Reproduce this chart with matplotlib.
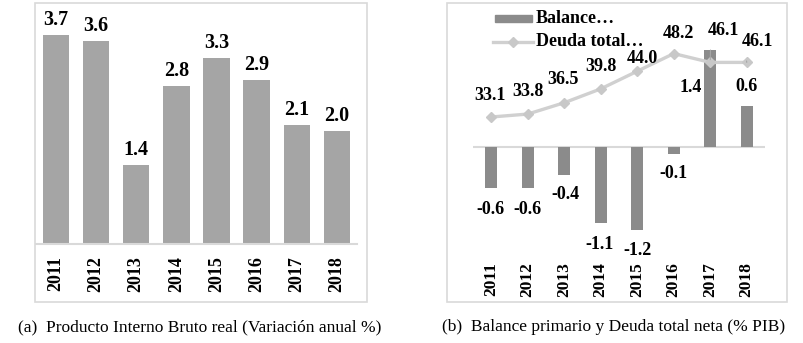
import matplotlib
matplotlib.use("Agg")
import matplotlib.pyplot as plt
from matplotlib.transforms import blended_transform_factory
from matplotlib.patches import Rectangle
from matplotlib.lines import Line2D

# ---- data ----
years = ['2011', '2012', '2013', '2014', '2015', '2016', '2017', '2018']
pib = [3.7, 3.6, 1.4, 2.8, 3.3, 2.9, 2.1, 2.0]
balance = [-0.6, -0.6, -0.4, -1.1, -1.2, -0.1, 1.4, 0.6]
deuda = [33.1, 33.8, 36.5, 39.8, 44.0, 48.2, 46.1, 46.1]
caption_a = '(a)  Producto Interno Bruto real (Variación anual %)'
caption_b = '(b)  Balance primario y Deuda total neta (% PIB)'
legend_labels = ['Balance…', 'Deuda total…']

# label offsets (pixels) - layout only
bal_off = [(-1, -21), (0, -21), (1, -20), (-1, -22), (0, -21), (0, -20), (-20, -37), (0, 19)]
deu_off = [(-1, 22), (0, 23), (-1, 23), (0, 22), (5, 13), (5, 20), (13, 32), (11, 21)]

SERIF = ['Liberation Serif', 'DejaVu Serif']
W, H = 804, 343
fig = plt.figure(figsize=(W / 100, H / 100), dpi=100)
fig.patch.set_facecolor('white')


def fx(px):
    return px / W


def fy(py):
    return 1 - py / H


BORDER = '#d9d9d9'
# panel frames
fig.add_artist(Rectangle((fx(35), fy(302)), fx(367) - fx(35), fy(3) - fy(302),
                         transform=fig.transFigure, fill=False, edgecolor=BORDER, lw=1.2))
fig.add_artist(Rectangle((fx(447), fy(302)), fx(787) - fx(447), fy(3) - fy(302),
                         transform=fig.transFigure, fill=False, edgecolor=BORDER, lw=1.2))

xs = list(range(len(years)))

# ---- left panel ----
axL = fig.add_axes([fx(35.7), fy(244), fx(357) - fx(35.7), fy(3) - fy(244)])
axL.bar(xs, pib, width=0.66, color='#a5a5a5', zorder=2)
axL.set_xlim(-0.5, 7.5)
axL.set_ylim(0, 241 / 56.5)
axL.axis('off')
axL.axhline(0, color=BORDER, lw=1.5, clip_on=False, zorder=3)
for i, v in zip(xs, pib):
    axL.annotate(f'{v:.1f}', (i, v), xytext=(0, 10), textcoords='offset pixels',
                 ha='center', va='baseline', fontsize=14.5, fontweight='bold', family=SERIF)
trL = blended_transform_factory(axL.transData, fig.transFigure)
for i, y in zip(xs, years):
    axL.text(i, fy(256), y, transform=trL, rotation=90, ha='center', va='top',
             fontsize=13, fontweight='bold', family=SERIF)

# ---- right panel ----
axR = fig.add_axes([fx(473), fy(250), fx(765) - fx(473), fy(10) - fy(250)])
axR.bar(xs, balance, width=0.34, color='#8b8b8b', zorder=2)
axR.set_xlim(-0.5, 7.5)
axR.set_ylim(-(250 - 147) / 69, (147 - 10) / 69)
axR.axis('off')
axR.axhline(0, color=BORDER, lw=1.5, zorder=1)
for i, v, (dx, dy) in zip(xs, balance, bal_off):
    axR.annotate(f'{v:.1f}', (i, v), xytext=(dx, dy), textcoords='offset pixels',
                 ha='center', va='center', fontsize=13, fontweight='bold', family=SERIF)

axR2 = axR.twinx()
axR2.set_xlim(-0.5, 7.5)
axR2.set_ylim(33.1 - (250 - 117) / 4.2, 33.1 + (117 - 10) / 4.2)
axR2.plot(xs, deuda, color='#d0d0d0', lw=2.4, marker='D', ms=5,
          markerfacecolor='#c8c8c8', markeredgecolor='#c8c8c8')
axR2.axis('off')
for k, (i, v, (dx, dy)) in enumerate(zip(xs, deuda, deu_off)):
    if k >= 6:
        axR2.annotate(f'{v:.1f}', (i, v), xytext=(dx, dy), textcoords='offset pixels',
                      ha='center', va='center', fontsize=13, fontweight='bold', family=SERIF,
                      arrowprops=dict(arrowstyle='-', color='#a6a6a6', lw=0.8,
                                      shrinkA=6, shrinkB=2, relpos=(0.1, 0.0)))
    else:
        axR2.annotate(f'{v:.1f}', (i, v), xytext=(dx, dy), textcoords='offset pixels',
                      ha='center', va='center', fontsize=13, fontweight='bold', family=SERIF)

trR = blended_transform_factory(axR.transData, fig.transFigure)
for i, y in zip(xs, years):
    axR.text(i, fy(262), y, transform=trR, rotation=90, ha='center', va='top',
             fontsize=12.5, fontweight='bold', family=SERIF)

# legend keys
fig.add_artist(Rectangle((fx(495), fy(22)), fx(532) - fx(495), fy(15) - fy(22),
                         transform=fig.transFigure, color='#8b8b8b'))
fig.add_artist(Line2D([fx(493), fx(533)], [fy(42), fy(42)], transform=fig.transFigure,
                      color='#d0d0d0', lw=2.4))
fig.add_artist(Line2D([fx(513)], [fy(42)], transform=fig.transFigure, marker='D', ms=5,
                      color='#c8c8c8', lw=0))
fig.text(fx(536), fy(18.5), legend_labels[0], ha='left', va='center', fontsize=13,
         fontweight='bold', family=SERIF)
fig.text(fx(536), fy(41.5), legend_labels[1], ha='left', va='center', fontsize=13,
         fontweight='bold', family=SERIF)

# captions
fig.text(fx(200), fy(327), caption_a, ha='center', va='center', fontsize=12.5, family=SERIF)
fig.text(fx(614), fy(327), caption_b, ha='center', va='center', fontsize=12.5, family=SERIF)

fig.savefig('out.png', dpi=100)
